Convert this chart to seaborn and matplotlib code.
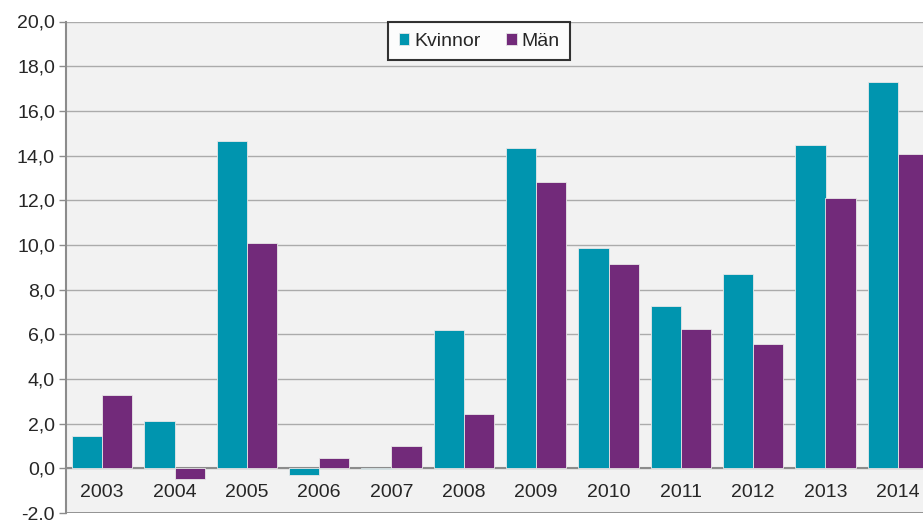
import pandas as pd
import matplotlib.pyplot as plt
import seaborn as sns

# === Data ===
years = ["2003", "2004", "2005", "2006", "2007", "2008",
         "2009", "2010", "2011", "2012", "2013", "2014"]
kvinnor = [1.45, 2.1, 14.65, -0.28, -0.05, 6.2, 14.35, 9.88, 7.25, 8.72, 14.48, 17.3]
man = [3.3, -0.47, 10.07, 0.45, 1.02, 2.42, 12.83, 9.15, 6.25, 5.58, 12.08, 14.05]
series_names = ["Kvinnor", "Män"]
colors = ["#0095AF", "#722A7A"]

df = pd.DataFrame({"År": years * 2,
                   "Värde": kvinnor + man,
                   "Kön": [series_names[0]] * len(years) + [series_names[1]] * len(years)})

sns.set_style("white")
plt.rcParams["font.family"] = ["Liberation Sans", "DejaVu Sans"]

fig = plt.figure(figsize=(9.23, 5.2), dpi=100)
# axes runs past the right edge of the figure, like the cropped original
ax = fig.add_axes([66 / 923, 7 / 520, 868 / 923, 491.5 / 520])
ax.set_facecolor("#F2F2F2")

sns.barplot(data=df, x="År", y="Värde", hue="Kön", palette=colors,
            width=0.83, saturation=1, ax=ax, zorder=3,
            edgecolor="#E8E8E8", linewidth=0.6)

ax.set_ylim(-2, 20)
ax.set_xlim(-0.5, len(years) - 0.5)
ax.set_yticks(range(-2, 21, 2))
ax.set_yticklabels([f"{v:.1f}".replace(".", ",") for v in range(-2, 21, 2)], fontsize=14)
ax.grid(axis="y", color="#ABABAB", linewidth=1, zorder=0)
ax.set_axisbelow(True)
ax.set_xlabel("")
ax.set_ylabel("")

# x axis sits at zero, year labels just under it
ax.spines["bottom"].set_position(("data", 0))
ax.spines["bottom"].set_color("#8C8C8C")
ax.spines["bottom"].set_linewidth(1.5)
ax.spines["left"].set_color("#8C8C8C")
ax.spines["left"].set_linewidth(1.5)
ax.spines["top"].set_visible(False)
ax.spines["right"].set_visible(False)
ax.axhline(-2, color="#8C8C8C", linewidth=2, zorder=4)
ax.tick_params(axis="x", length=0, pad=11, labelsize=14)
ax.tick_params(axis="y", length=5, width=1, color="#8C8C8C", left=True, pad=3)

leg = ax.legend(loc="upper left", bbox_to_anchor=(388 / 923, 1 - 22 / 520),
                bbox_transform=fig.transFigure, borderaxespad=0, ncol=2, frameon=True,
                fontsize=14, handlelength=0.55, handleheight=0.55, handletextpad=0.25,
                columnspacing=1.3, borderpad=0.55, fancybox=False)
leg.get_frame().set_edgecolor("black")
leg.get_frame().set_linewidth(1.5)
leg.get_frame().set_facecolor("white")
leg.set_zorder(5)

fig.savefig("out.png", dpi=100)
